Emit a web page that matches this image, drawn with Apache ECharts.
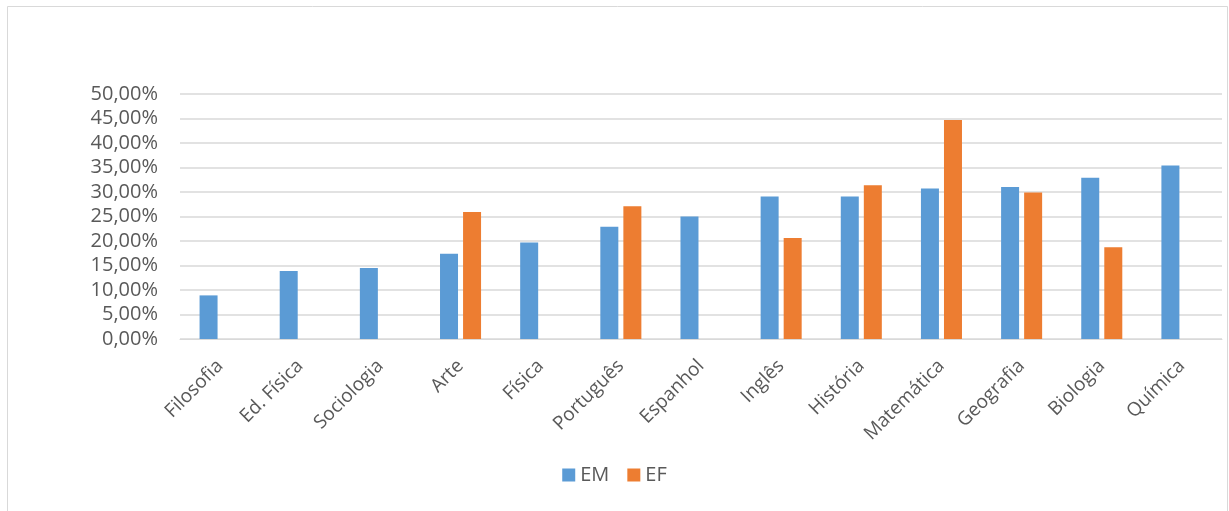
<!DOCTYPE html>
<html>
<head>
<meta charset="utf-8">
<script src="https://cdn.jsdelivr.net/npm/echarts@6/dist/echarts.min.js"></script>
<style>
  html, body { margin: 0; padding: 0; background: #ffffff; }
  #chart { width: 1229px; height: 511px; }
</style>
</head>
<body>
<div id="chart"></div>
<script>
// Disciplinas (eixo X)
const categories = ['Filosofia', 'Ed. Física', 'Sociologia', 'Arte', 'Física', 'Português',
  'Espanhol', 'Inglês', 'História', 'Matemática', 'Geografia', 'Biologia', 'Química'];

// Percentuais por nível de ensino (null = sem valor)
const emValues = [8.9, 13.9, 14.5, 17.4, 19.7, 22.9, 25.0, 29.1, 29.1, 30.7, 31.0, 32.9, 35.4];
const efValues = [null, null, null, 25.9, null, 27.1, null, 20.6, 31.4, 44.7, 29.9, 18.7, null];

const seriesNames = ['EM', 'EF'];
const seriesColors = ['#5B9BD5', '#ED7D31'];

const yMin = 0;
const yMax = 50;
const yStep = 5;

const textColor = '#595959';
const fontFamily = '"Open Sans", "Noto Sans", sans-serif';

function fmtPct(v) {
  return v.toFixed(2).replace('.', ',') + '%';
}

const chart = echarts.init(document.getElementById('chart'), null, { renderer: 'canvas' });

chart.setOption({
  animation: false,
  backgroundColor: '#ffffff',
  graphic: [{
    type: 'rect',
    shape: { x: 7.5, y: 6.5, width: 1220, height: 520 },
    style: { fill: 'none', stroke: '#d9d9d9', lineWidth: 1 },
    silent: true,
    z: 0
  }],
  grid: {
    left: 180,
    right: 7,
    top: 94,
    bottom: 172,
    containLabel: false
  },
  legend: {
    bottom: 21,
    left: 'center',
    itemWidth: 13,
    itemHeight: 13,
    itemGap: 18,
    icon: 'rect',
    textStyle: { color: textColor, fontSize: 20, fontFamily: fontFamily, padding: [0, 0, 0, 0] },
    data: seriesNames
  },
  xAxis: {
    type: 'category',
    data: categories,
    axisLine: { show: true, lineStyle: { color: '#d9d9d9', width: 1 } },
    axisTick: { show: false },
    axisLabel: {
      rotate: 45,
      interval: 0,
      color: textColor,
      fontSize: 19,
      fontFamily: fontFamily,
      margin: 24
    }
  },
  yAxis: {
    type: 'value',
    min: yMin,
    max: yMax,
    interval: yStep,
    axisLine: { show: false },
    axisTick: { show: false },
    splitLine: { show: true, lineStyle: { color: '#d9d9d9', width: 1.5 } },
    axisLabel: {
      color: textColor,
      fontSize: 20,
      fontFamily: fontFamily,
      margin: 22,
      formatter: fmtPct
    }
  },
  series: [
    {
      name: seriesNames[0],
      type: 'bar',
      data: emValues,
      barWidth: 18,
      barGap: '28%',
      itemStyle: { color: seriesColors[0] }
    },
    {
      name: seriesNames[1],
      type: 'bar',
      data: efValues,
      barWidth: 18,
      barGap: '28%',
      itemStyle: { color: seriesColors[1] }
    }
  ]
});
</script>
</body>
</html>
